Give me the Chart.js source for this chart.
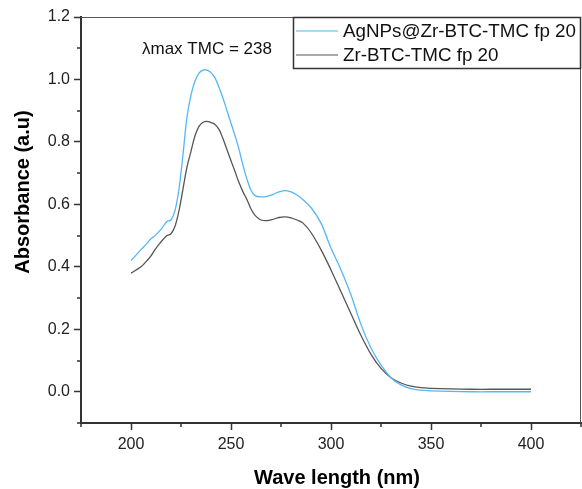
<!DOCTYPE html>
<html>
<head>
<meta charset="utf-8">
<script src="https://cdn.jsdelivr.net/npm/chart.js@4.4.1/dist/chart.umd.min.js"></script>
<style>
  html, body { margin: 0; padding: 0; background: #fff; }
  #wrap { width: 582px; height: 489px; }
</style>
</head>
<body>
<div id="wrap"><canvas id="uvChart" width="582" height="489"></canvas></div>
<script>
// wavelengths (nm)
const wavelengths = [200, 205, 208, 210, 212, 215, 218, 220, 222, 224, 226, 228, 230, 232, 234, 236, 238, 240,
    242, 244, 246, 248, 250, 252, 254, 256, 258, 260, 262, 265, 268, 271, 274, 277, 280, 283, 286, 290,
    295, 300, 305, 310, 315, 320, 325, 330, 335, 340, 345, 350, 360, 370, 380, 390, 400];
// AgNPs@Zr-BTC-TMC fp 20
const agValues = [0.42, 0.455, 0.475, 0.49, 0.50, 0.52, 0.545, 0.55, 0.58, 0.65, 0.76, 0.88, 0.95, 0.995, 1.02, 1.03, 1.03, 1.022,
    1.005, 0.975, 0.94, 0.90, 0.86, 0.82, 0.776, 0.725, 0.68, 0.645, 0.628, 0.624, 0.626, 0.632, 0.64, 0.644, 0.64, 0.63, 0.615, 0.59,
    0.54, 0.46, 0.39, 0.31, 0.215, 0.14, 0.085, 0.045, 0.022, 0.01, 0.005, 0.003, 0.001, 0.0, 0.0, 0.0, 0.0];
// Zr-BTC-TMC fp 20
const zrValues = [0.38, 0.40, 0.42, 0.435, 0.455, 0.48, 0.50, 0.506, 0.53, 0.58, 0.65, 0.72, 0.77, 0.82, 0.85, 0.863, 0.866, 0.862,
    0.856, 0.84, 0.81, 0.775, 0.74, 0.705, 0.67, 0.64, 0.615, 0.585, 0.565, 0.55, 0.548, 0.552, 0.558, 0.56, 0.557, 0.55, 0.54, 0.51,
    0.455, 0.39, 0.32, 0.25, 0.18, 0.12, 0.075, 0.045, 0.028, 0.018, 0.013, 0.011, 0.009, 0.008, 0.008, 0.008, 0.008];

const seriesLabels = ['AgNPs@Zr-BTC-TMC fp 20', 'Zr-BTC-TMC fp 20'];
const seriesColors = ['#55b6f5', '#555555'];
const xTicks = [200, 250, 300, 350, 400];
const xMinorTicks = [175, 225, 275, 325, 375, 425];
const yTicks = [0.0, 0.2, 0.4, 0.6, 0.8, 1.0, 1.2];
const yMinorTicks = [-0.1, 0.1, 0.3, 0.5, 0.7, 0.9, 1.1];
const annotationText = 'λmax TMC = 238';

function toPoints(vals) {
    return wavelengths.map((w, i) => ({ x: w, y: vals[i] }));
}

const extras = {
    id: 'extras',
    afterDraw(chart) {
        const ctx = chart.ctx;
        const a = chart.chartArea;
        const xs = chart.scales.x, ys = chart.scales.y;
        ctx.save();
        // top and right frame
        ctx.strokeStyle = '#555';
        ctx.lineWidth = 1;
        ctx.beginPath();
        ctx.moveTo(a.left, a.top + 0.5);
        ctx.lineTo(a.right - 0.5, a.top + 0.5);
        ctx.lineTo(a.right - 0.5, a.bottom);
        ctx.stroke();
        // minor ticks
        ctx.strokeStyle = '#333';
        ctx.lineWidth = 1.5;
        ctx.beginPath();
        xMinorTicks.forEach(v => {
            const px = Math.round(xs.getPixelForValue(v));
            ctx.moveTo(px, a.bottom);
            ctx.lineTo(px, a.bottom + 4);
        });
        yMinorTicks.forEach(v => {
            const py = Math.round(ys.getPixelForValue(v));
            ctx.moveTo(a.left, py);
            ctx.lineTo(a.left - 4, py);
        });
        ctx.stroke();
        // axis titles
        ctx.fillStyle = '#000';
        ctx.font = 'bold 20px "Liberation Sans", Arial, sans-serif';
        ctx.textAlign = 'center';
        ctx.textBaseline = 'alphabetic';
        ctx.fillText('Wave length (nm)', 337, 484);
        ctx.save();
        ctx.translate(29, 192);
        ctx.rotate(-Math.PI / 2);
        ctx.fillText('Absorbance (a.u)', 0, 0);
        ctx.restore();
        // annotation
        ctx.font = '17px "Liberation Sans", Arial, sans-serif';
        ctx.textAlign = 'left';
        ctx.fillStyle = '#111';
        ctx.fillText(annotationText, 142, 54);
        // legend box
        const bx = 293, by = a.top, bw = 288, bh = 51;
        ctx.fillStyle = '#fff';
        ctx.fillRect(bx, by, bw, bh);
        ctx.strokeStyle = '#333';
        ctx.lineWidth = 1.5;
        ctx.strokeRect(bx + 0.5, by + 0.5, bw - 1, bh);
        ctx.font = '18.8px "Liberation Sans", Arial, sans-serif';
        chart.data.datasets.forEach((ds, i) => {
            const ly = by + 14 + i * 24;
            ctx.strokeStyle = ds.borderColor;
            ctx.lineWidth = 1.2;
            ctx.beginPath();
            ctx.moveTo(296, ly);
            ctx.lineTo(338, ly);
            ctx.stroke();
            ctx.fillStyle = '#111';
            ctx.textBaseline = 'middle';
            ctx.fillText(ds.label, 343, ly + 1);
        });
        ctx.restore();
    }
};

new Chart(document.getElementById('uvChart'), {
    type: 'line',
    data: {
        datasets: [
            {
                label: seriesLabels[0],
                data: toPoints(agValues),
                borderColor: seriesColors[0],
                borderWidth: 1.3,
                pointRadius: 0,
                fill: false,
                tension: 0.35
            },
            {
                label: seriesLabels[1],
                data: toPoints(zrValues),
                borderColor: seriesColors[1],
                borderWidth: 1.3,
                pointRadius: 0,
                fill: false,
                tension: 0.35
            }
        ]
    },
    options: {
        responsive: false,
        animation: false,
        layout: { padding: { top: 17, right: 1, left: 0, bottom: 0 } },
        plugins: {
            legend: { display: false },
            title: { display: false },
            tooltip: { enabled: false }
        },
        scales: {
            x: {
                type: 'linear',
                min: 175,
                max: 425,
                afterBuildTicks: s => { s.ticks = xTicks.map(v => ({ value: v })); },
                afterFit: s => { s.height = 66; },
                grid: { drawOnChartArea: false, drawTicks: true, tickLength: 7, tickColor: '#333', tickWidth: 1.5 },
                border: { display: true, color: '#333', width: 2 },
                ticks: {
                    color: '#222',
                    padding: 5,
                    maxRotation: 0,
                    font: { family: '"Liberation Sans", Arial, sans-serif', size: 16 },
                    callback: v => String(v)
                }
            },
            y: {
                min: -0.1,
                max: 1.2,
                afterBuildTicks: s => { s.ticks = yTicks.map(v => ({ value: v })); },
                afterFit: s => { s.width = 81; },
                grid: { drawOnChartArea: false, drawTicks: true, tickLength: 7, tickColor: '#333', tickWidth: 1.5 },
                border: { display: true, color: '#333', width: 2 },
                ticks: {
                    color: '#222',
                    padding: 4,
                    font: { family: '"Liberation Sans", Arial, sans-serif', size: 16 },
                    callback: v => Number(v).toFixed(1)
                }
            }
        }
    },
    plugins: [extras]
});
</script>
</body>
</html>
